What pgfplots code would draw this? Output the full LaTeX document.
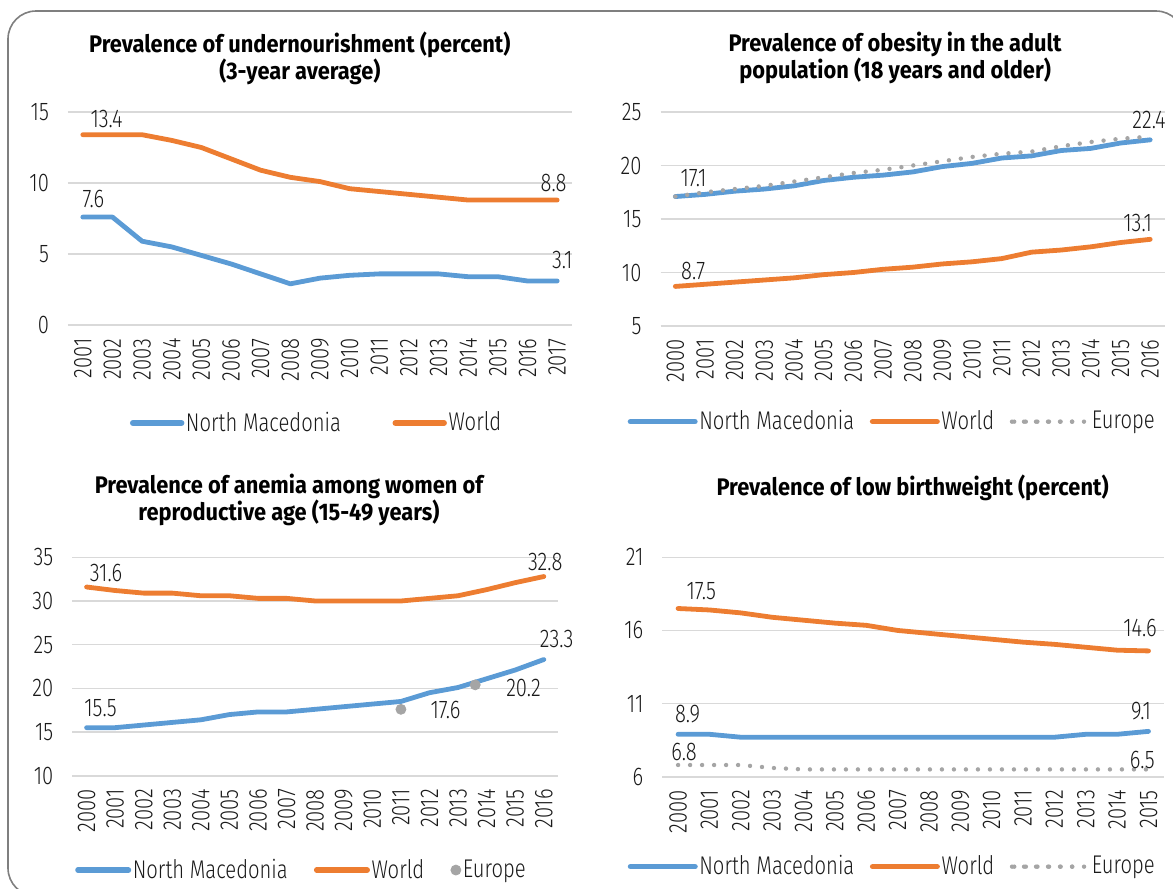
\documentclass[border=0pt]{standalone}
\usepackage{fontspec}
\setmainfont{Fira Sans}[UprightFont={* Light}, BoldFont={* Bold}, FakeStretch=0.79]
\newfontfamily\titlefamily{Fira Sans}[UprightFont={* Bold}, FakeStretch=0.91]
\usepackage{pgfplots}
\pgfplotsset{compat=1.18}
\definecolor{nmblue}{HTML}{5B9BD5}
\definecolor{wdorange}{HTML}{ED7D31}
\definecolor{eugray}{HTML}{A5A5A5}
\definecolor{gridgray}{HTML}{D9D9D9}
\definecolor{framegray}{HTML}{7F7F7F}
\definecolor{txt}{HTML}{1A1A1A}
\newcommand{\tfont}{\titlefamily\fontsize{12}{13.5}\selectfont}
\newcommand{\nfont}{\fontsize{12.8}{14}\selectfont}
\tikzset{lab/.style={font=\nfont, text=txt}}
\pgfplotsset{
  panel/.style={
    scale only axis, anchor=south west, clip=false,
    axis x line*=bottom, axis y line*=left, axis line style={draw=none},
    major tick length=0pt, tick style={draw=none},
    ymajorgrids, grid style={gridgray, line width=0.8pt},
    /pgf/number format/assume math mode=true,
    tick label style={font=\nfont, text=txt},
    x tick label style={rotate=90, anchor=east},
    xticklabel shift=3.2pt, yticklabel shift=6pt,
    legend style={draw=none, fill=none, inner sep=0pt, outer sep=0pt, font=\nfont, text=txt,
      anchor=west, nodes={inner sep=0.8pt}, /tikz/column sep=0pt},
    legend columns=-1, legend cell align=left,
    title style={font=\tfont, align=center, anchor=center, text=black},
  },
  nm/.style={nmblue, line width=2.4pt, line join=round, line cap=round, mark=none},
  wd/.style={wdorange, line width=2.4pt, line join=round, line cap=round, mark=none},
  eu/.style={eugray, line width=2.2pt, line cap=round, dash pattern=on 0pt off 6pt, mark=none},
}
\begin{document}
\begin{tikzpicture}
\useasboundingbox (0,0) rectangle (586.5pt,-444.5pt);
\draw[framegray, line width=0.8pt, rounded corners=14pt] (4pt,-5.5pt) rectangle (592pt,-448pt);

% Panel 1
\begin{axis}[panel, at={(34pt,-162.5pt)}, width=252pt, height=106.5pt,
  xmin=-0.5, xmax=16.5, ymin=0, ymax=15, ytick={0,5,10,15},
  xtick={0,1,2,3,4,5,6,7,8,9,10,11,12,13,14,15,16},
  xticklabels={2001,2002,2003,2004,2005,2006,2007,2008,2009,2010,2011,2012,2013,2014,2015,2016,2017},
  title={Prevalence of undernourishment (percent)\\(3-year average)},
  title style={at={(0.46,1.195)}},
  legend style={at={(0.123,-0.46)}, /tikz/every even column/.append style={column sep=25pt}}]
\addplot[nm, legend image code/.code={\draw[nmblue, line width=2.8pt, line cap=round] (1.4pt,0pt) -- (25.8pt,0pt);}]
  coordinates {(0,7.6)(1,7.6)(2,5.9)(3,5.5)(4,4.9)(5,4.3)(6,3.6)(7,2.9)(8,3.3)(9,3.5)(10,3.6)(11,3.6)(12,3.6)(13,3.4)(14,3.4)(15,3.1)(16,3.1)};
\addlegendentry{North Macedonia}
\addplot[wd, legend image code/.code={\draw[wdorange, line width=2.8pt, line cap=round] (1.4pt,0pt) -- (25.8pt,0pt);}]
  coordinates {(0,13.4)(1,13.4)(2,13.4)(3,13.0)(4,12.5)(5,11.7)(6,10.9)(7,10.4)(8,10.1)(9,9.6)(10,9.4)(11,9.2)(12,9.0)(13,8.8)(14,8.8)(15,8.8)(16,8.8)};
\addlegendentry{World}
\node[lab] at (axis cs:0.8,14.5) {13.4};
\node[lab] at (axis cs:0.36,8.85) {7.6};
\node[lab] at (axis cs:15.88,9.98) {8.8};
\node[lab] at (axis cs:16.17,4.58) {3.1};
\end{axis}

% Panel 2
\begin{axis}[panel, at={(330.25pt,-163pt)}, width=252.25pt, height=107pt,
  xmin=-0.5, xmax=16.5, ymin=5, ymax=25, ytick={5,10,15,20,25},
  xtick={0,1,2,3,4,5,6,7,8,9,10,11,12,13,14,15,16},
  xticklabels={2000,2001,2002,2003,2004,2005,2006,2007,2008,2009,2010,2011,2012,2013,2014,2015,2016},
  title={Prevalence of obesity in the adult\\population (18 years and older)},
  title style={at={(0.465,1.195)}},
  legend style={at={(-0.065,-0.447)}, /tikz/every even column/.append style={column sep=7pt}}]
\addplot[nm, legend image code/.code={\draw[nmblue, line width=2.8pt, line cap=round] (1.4pt,0pt) -- (33.6pt,0pt);}]
  coordinates {(0,17.1)(1,17.3)(2,17.6)(3,17.8)(4,18.1)(5,18.6)(6,18.9)(7,19.1)(8,19.4)(9,19.9)(10,20.2)(11,20.7)(12,20.9)(13,21.4)(14,21.6)(15,22.1)(16,22.4)};
\addlegendentry{North Macedonia}
\addplot[wd, legend image code/.code={\draw[wdorange, line width=2.8pt, line cap=round] (1.4pt,0pt) -- (33.6pt,0pt);}]
  coordinates {(0,8.7)(1,8.9)(2,9.1)(3,9.3)(4,9.5)(5,9.8)(6,10.0)(7,10.3)(8,10.5)(9,10.8)(10,11.0)(11,11.3)(12,11.9)(13,12.1)(14,12.4)(15,12.8)(16,13.1)};
\addlegendentry{World}
\addplot[eu, legend image code/.code={\draw[eugray, line width=2.2pt, line cap=round, dash pattern=on 0pt off 5.8pt] (1.1pt,0pt) -- (30.2pt,0pt); \path (0pt,0pt) -- (38pt,0pt);}]
  coordinates {(0,17.1)(1,17.5)(2,17.8)(3,18.1)(4,18.5)(5,18.9)(6,19.3)(7,19.6)(8,20.0)(9,20.4)(10,20.8)(11,21.1)(12,21.3)(13,21.8)(14,22.2)(15,22.5)(16,22.7)};
\addlegendentry{Europe}
\node[lab] at (axis cs:0.61,18.8) {17.1};
\node[lab] at (axis cs:15.96,24.3) {22.4};
\node[lab] at (axis cs:15.58,14.6) {13.1};
\node[lab] at (axis cs:0.6,10.14) {8.7};
\end{axis}

% Panel 3
\begin{axis}[panel, at={(36.15pt,-387.85pt)}, width=242.9pt, height=109.2pt,
  xmin=-0.5, xmax=16.5, ymin=10, ymax=35, ytick={10,15,20,25,30,35},
  xtick={0,1,2,3,4,5,6,7,8,9,10,11,12,13,14,15,16},
  xticklabels={2000,2001,2002,2003,2004,2005,2006,2007,2008,2009,2010,2011,2012,2013,2014,2015,2016},
  title={Prevalence of anemia among women of\\reproductive age (15-49 years)},
  title style={at={(0.446,1.206)}},
  legend style={at={(0.006,-0.432)}, /tikz/every even column/.append style={column sep=12.3pt}}]
\addplot[nm, legend image code/.code={\draw[nmblue, line width=2.8pt, line cap=round] (1.4pt,0pt) -- (26.6pt,0pt);}]
  coordinates {(0,15.5)(1,15.5)(2,15.8)(3,16.1)(4,16.4)(5,17.0)(6,17.3)(7,17.3)(8,17.6)(9,17.9)(10,18.2)(11,18.5)(12,19.5)(13,20.1)(14,21.1)(15,22.1)(16,23.3)};
\addlegendentry{North Macedonia}
\addplot[wd, legend image code/.code={\draw[wdorange, line width=2.8pt, line cap=round] (1.4pt,0pt) -- (26.6pt,0pt);}]
  coordinates {(0,31.6)(1,31.2)(2,30.9)(3,30.9)(4,30.6)(5,30.6)(6,30.3)(7,30.3)(8,30.0)(9,30.0)(10,30.0)(11,30.0)(12,30.3)(13,30.6)(14,31.3)(15,32.1)(16,32.8)};
\addlegendentry{World}
\addplot[only marks, mark=*, mark size=2.5pt, mark options={fill=eugray, draw=eugray}, eugray,
  legend image code/.code={\fill[eugray] (2.5pt,0pt) circle (2.5pt);}]
  coordinates {(11,17.6)(13.6,20.4)};
\addlegendentry{Europe}
\node[lab] at (axis cs:0.68,33.24) {31.6};
\node[lab] at (axis cs:16.05,34.5) {32.8};
\node[lab] at (axis cs:16.45,25.65) {23.3};
\node[lab] at (axis cs:0.49,17.72) {15.5};
\node[lab] at (axis cs:12.56,17.52) {17.6};
\node[lab] at (axis cs:15.29,20.0) {20.2};
\end{axis}

% Panel 4
\begin{axis}[panel, at={(331.2pt,-388.35pt)}, width=250.9pt, height=109.7pt,
  xmin=-0.5, xmax=15.5, ymin=6, ymax=21, ytick={6,11,16,21},
  xtick={0,1,2,3,4,5,6,7,8,9,10,11,12,13,14,15},
  xticklabels={2000,2001,2002,2003,2004,2005,2006,2007,2008,2009,2010,2011,2012,2013,2014,2015},
  title={Prevalence of low birthweight (percent)},
  title style={at={(0.4986,1.262)}},
  legend style={at={(-0.069,-0.410)}, /tikz/every even column/.append style={column sep=7pt}}]
\addplot[nm, legend image code/.code={\draw[nmblue, line width=2.8pt, line cap=round] (1.4pt,0pt) -- (33.6pt,0pt);}]
  coordinates {(0,8.9)(1,8.9)(2,8.7)(3,8.7)(4,8.7)(5,8.7)(6,8.7)(7,8.7)(8,8.7)(9,8.7)(10,8.7)(11,8.7)(12,8.7)(13,8.9)(14,8.9)(15,9.1)};
\addlegendentry{North Macedonia}
\addplot[wd, legend image code/.code={\draw[wdorange, line width=2.8pt, line cap=round] (1.4pt,0pt) -- (33.6pt,0pt);}]
  coordinates {(0,17.5)(1,17.4)(2,17.2)(3,16.9)(4,16.7)(5,16.5)(6,16.35)(7,16.0)(8,15.8)(9,15.6)(10,15.4)(11,15.2)(12,15.05)(13,14.85)(14,14.65)(15,14.6)};
\addlegendentry{World}
\addplot[eu, legend image code/.code={\draw[eugray, line width=2.2pt, line cap=round, dash pattern=on 0pt off 5.8pt] (1.1pt,0pt) -- (30.2pt,0pt); \path (0pt,0pt) -- (38pt,0pt);}]
  coordinates {(0,6.8)(1,6.8)(2,6.8)(3,6.6)(4,6.5)(5,6.5)(6,6.5)(7,6.5)(8,6.5)(9,6.5)(10,6.5)(11,6.5)(12,6.5)(13,6.5)(14,6.5)(15,6.5)};
\addlegendentry{Europe}
\node[lab] at (axis cs:0.74,18.69) {17.5};
\node[lab] at (axis cs:14.73,16.14) {14.6};
\node[lab] at (axis cs:0.3,10.29) {8.9};
\node[lab] at (axis cs:14.76,10.51) {9.1};
\node[lab] at (axis cs:0.19,7.71) {6.8};
\node[lab] at (axis cs:14.8,7.14) {6.5};
\end{axis}
\end{tikzpicture}
\end{document}
